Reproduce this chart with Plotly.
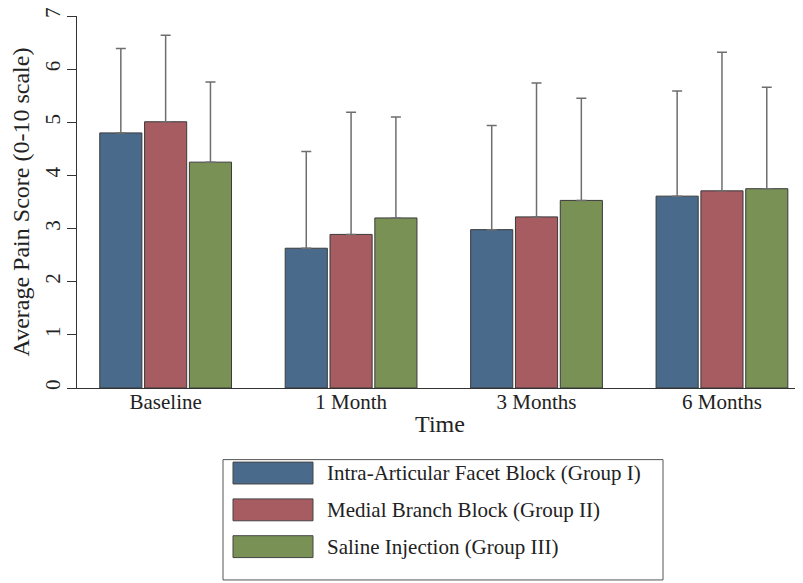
import plotly.graph_objects as go

categories = ["Baseline", "1 Month", "3 Months", "6 Months"]
series_names = [
    "Intra-Articular Facet Block (Group I)",
    "Medial Branch Block (Group II)",
    "Saline Injection (Group III)",
]
group1_mean = [4.80, 2.63, 2.98, 3.61]
group1_sd = [1.59, 1.82, 1.96, 1.98]
group2_mean = [5.01, 2.89, 3.22, 3.71]
group2_sd = [1.63, 2.30, 2.52, 2.61]
group3_mean = [4.25, 3.20, 3.53, 3.75]
group3_sd = [1.51, 1.90, 1.92, 1.91]
colors = ["#4a6a8c", "#a65c61", "#7a9156"]

means = [group1_mean, group2_mean, group3_mean]
sds = [group1_sd, group2_sd, group3_sd]

FONT = "Liberation Serif"
TXT = "#222222"
fig = go.Figure()
for name, m, s, c in zip(series_names, means, sds, colors):
    fig.add_trace(go.Bar(
        x=categories, y=m, name=name,
        marker=dict(color=c, line=dict(color="#3a3a3a", width=1)),
        error_y=dict(type="data", array=s, arrayminus=[0] * len(s), symmetric=False,
                     color="#6e6e6e", thickness=1.5, width=5),
        showlegend=False,
    ))

# custom legend box below the plot (paper coords; plot domain is 726 x 374 px)
x0, x1 = (223 - 77) / 726, (663 - 77) / 726
y_top, y_bot = (388 - 460) / 374, (388 - 581) / 374
fig.add_shape(type="rect", xref="paper", yref="paper", x0=x0, x1=x1, y0=y_bot, y1=y_top,
              line=dict(color="#555555", width=1), fillcolor="white")
row_centers = [473.5, 510.5, 547.5]
for name, c, yc_px in zip(series_names, colors, row_centers):
    yc = (388 - yc_px) / 374
    fig.add_shape(type="rect", xref="paper", yref="paper",
                  x0=(233 - 77) / 726, x1=(313 - 77) / 726,
                  y0=yc - 11 / 374, y1=yc + 11 / 374,
                  line=dict(color="#444444", width=1), fillcolor=c)
    fig.add_annotation(xref="paper", yref="paper", x=(325 - 77) / 726, y=yc,
                       text=name, showarrow=False, xanchor="left", yanchor="middle",
                       font=dict(family=FONT, size=21, color=TXT))

# page body has an 8px margin, so the figure is 795x575 placed at (8, 8)
fig.update_layout(
    width=795, height=575,
    margin=dict(l=69, r=0, t=6, b=195),
    paper_bgcolor="white", plot_bgcolor="white",
    barmode="group", bargap=0.275, bargroupgap=0.06,
    font=dict(family=FONT, color=TXT),
)
fig.update_xaxes(
    range=[-0.478, 3.437], showline=True, linecolor="#333333", linewidth=1.3,
    ticks="", tickfont=dict(size=21, family=FONT, color=TXT), ticklabelstandoff=-5,
    title=dict(text="Time", font=dict(size=24, family=FONT, color=TXT), standoff=1),
    showgrid=False, zeroline=False,
)
fig.update_yaxes(
    range=[0, 7], dtick=1, tick0=0, showline=True, linecolor="#333333", linewidth=1.3,
    ticks="outside", ticklen=9, tickcolor="#333333", tickwidth=1.3,
    tickangle=-90, tickfont=dict(size=21, family=FONT, color=TXT),
    ticklabeloverflow="allow", ticklabelstandoff=-2,
    title=dict(text="Average Pain Score (0-10 scale)", font=dict(size=24, family=FONT, color=TXT), standoff=10),
    showgrid=False, zeroline=False,
)

fig.write_html("out.html")
